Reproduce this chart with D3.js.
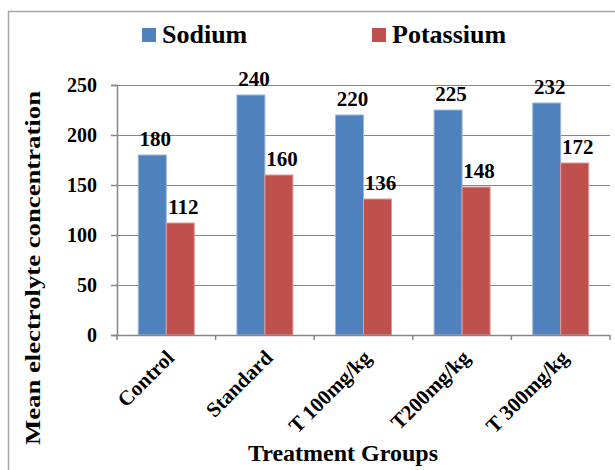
<!DOCTYPE html>
<html>
<head>
<meta charset="utf-8">
<script src="https://cdn.jsdelivr.net/npm/d3@7"></script>
</head>
<body style="margin:0;background:#fff">
<svg id="chart" width="615" height="470" style="display:block;font-family:'Liberation Serif',Tinos,'Times New Roman',serif;font-weight:bold"></svg>
<script>
const categories = ["Control", "Standard", "T 100mg/kg", "T200mg/kg", "T 300mg/kg"];
const seriesNames = ["Sodium", "Potassium"];
const sodium = [180, 240, 220, 225, 232];
const potassium = [112, 160, 136, 148, 172];
const yTicks = [0, 50, 100, 150, 200, 250];
const colors = ["#4F81BD", "#C0504D"];
const edgeColors = ["#9DB7DB", "#DE9B99"];

const FONT = "'Liberation Serif', Tinos, 'Times New Roman', serif";
function styleText(sel, size) {
  return sel.attr("font-family", FONT).attr("font-weight", "bold").attr("font-size", size)
    .style("font-family", FONT).style("font-weight", "bold").style("font-size", size + "px").style("fill", "#000");
}

const svg = d3.select("#chart");
const plot = { left: 117, right: 610, top: 85, bottom: 335 };

// outer frame
svg.append("rect").attr("x", 8.5).attr("y", 11.5).attr("width", 700).attr("height", 600)
  .attr("fill", "none").attr("stroke", "#A6A6A6").attr("stroke-width", 1.5);

const x0 = d3.scaleBand().domain(categories).range([plot.left, plot.right]).paddingInner(0).paddingOuter(0);
const x1 = d3.scaleBand().domain(seriesNames).range([0, x0.bandwidth()]).paddingInner(0).paddingOuter(0.76);
const y = d3.scaleLinear().domain([0, 250]).range([plot.bottom, plot.top]);

// gridlines
svg.append("g").selectAll("line").data(yTicks.filter(d => d > 0)).join("line")
  .attr("x1", plot.left).attr("x2", plot.right)
  .attr("y1", d => Math.round(y(d)) + 0.5).attr("y2", d => Math.round(y(d)) + 0.5)
  .attr("stroke", "#868686").attr("stroke-width", 1.2);

// y axis
const yAxis = svg.append("g").attr("transform", `translate(${plot.left},0)`)
  .call(d3.axisLeft(y).tickValues(yTicks).tickSize(6).tickPadding(14));
yAxis.attr("font-family", null).attr("font-size", null);
yAxis.select(".domain").attr("stroke", "#868686").attr("stroke-width", 1.5);
yAxis.selectAll(".tick line").attr("stroke", "#868686").attr("stroke-width", 1.5);
styleText(yAxis.selectAll(".tick text"), 20);

// bars
const data = categories.map((c, i) => ({ cat: c, vals: [sodium[i], potassium[i]] }));
const groups = svg.append("g").selectAll("g").data(data).join("g")
  .attr("transform", d => `translate(${x0(d.cat)},0)`);
groups.selectAll("rect").data(d => d.vals.map((v, j) => ({ v, s: seriesNames[j], j }))).join("rect")
  .attr("x", d => x1(d.s)).attr("width", x1.bandwidth())
  .attr("y", d => y(d.v)).attr("height", d => y(0) - y(d.v))
  .attr("fill", d => colors[d.j]).attr("stroke", d => edgeColors[d.j]).attr("stroke-width", 1);
styleText(groups.selectAll("text").data(d => d.vals.map((v, j) => ({ v, s: seriesNames[j], j }))).join("text")
  .attr("x", d => x1(d.s) + x1.bandwidth() / 2 + 3)
  .attr("y", d => y(d.v) - 9)
  .attr("text-anchor", "middle")
  .text(d => d.v), 21);

// x axis
const xAxis = svg.append("g").attr("transform", `translate(0,${plot.bottom})`);
xAxis.append("line").attr("x1", plot.left).attr("x2", plot.right).attr("y1", 0.5).attr("y2", 0.5)
  .attr("stroke", "#868686").attr("stroke-width", 1.5);
const bounds = categories.map(c => x0(c)).concat([x0(categories[categories.length - 1]) + x0.bandwidth()]);
xAxis.selectAll("line.t").data(bounds).join("line").attr("class", "t")
  .attr("x1", d => d).attr("x2", d => d).attr("y1", 0).attr("y2", 5)
  .attr("stroke", "#868686").attr("stroke-width", 1.5);
styleText(xAxis.selectAll("text").data(categories).join("text")
  .attr("transform", d => `translate(${x0(d) + x0.bandwidth() / 2 + 9},${24}) rotate(-45)`)
  .attr("text-anchor", "end")
  .text(d => d), 21);

// axis titles
styleText(svg.append("text").attr("x", 343).attr("y", 461).attr("text-anchor", "middle")
  .text("Treatment Groups"), 24);
styleText(svg.append("text").attr("transform", "translate(40,268) rotate(-90)").attr("text-anchor", "middle")
  .attr("textLength", 354).attr("lengthAdjust", "spacingAndGlyphs")
  .text("Mean electrolyte concentration"), 22);

// legend
const legendX = [142, 372];
seriesNames.forEach((s, i) => {
  svg.append("rect").attr("x", legendX[i]).attr("y", 28).attr("width", 14).attr("height", 14).attr("fill", colors[i]);
  styleText(svg.append("text").attr("x", legendX[i] + 20).attr("y", 43).text(s), 26);
});
</script>
</body>
</html>
